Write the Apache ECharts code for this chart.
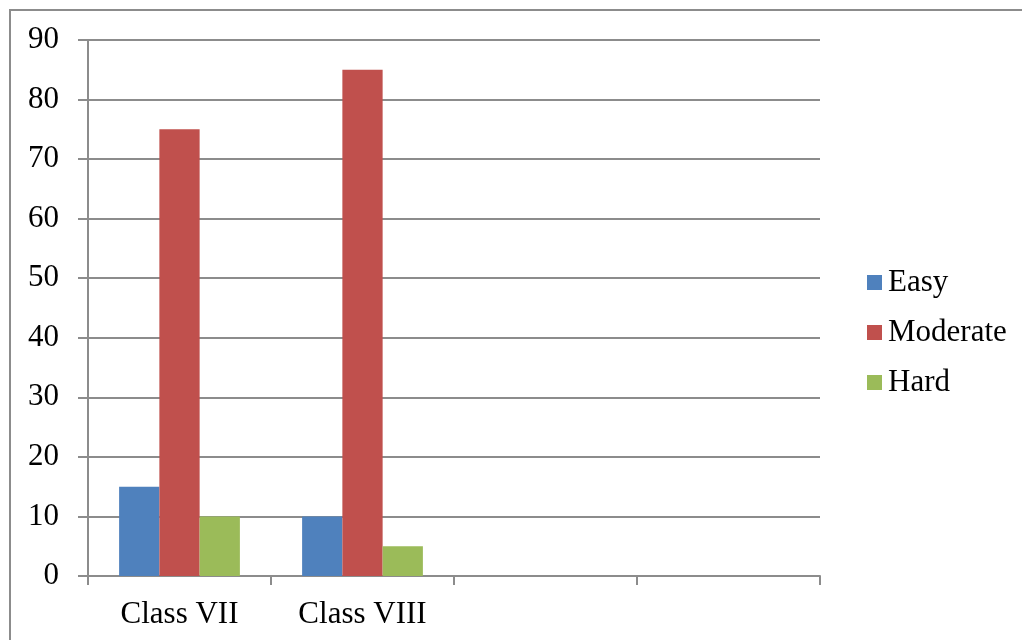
<!DOCTYPE html>
<html>
<head>
<meta charset="utf-8">
<script src="https://cdn.jsdelivr.net/npm/echarts@6/dist/echarts.min.js"></script>
<style>
  html, body { margin: 0; padding: 0; background: #fff; }
  #chart { width: 1022px; height: 640px; }
</style>
</head>
<body>
<div id="chart"></div>
<script>
// categories (last two slots are empty in the source chart)
var categories = ['Class VII', 'Class VIII', '', '']
var easy = [15, 10, null, null]
var moderate = [75, 85, null, null]
var hard = [10, 5, null, null]
var seriesNames = ['Easy', 'Moderate', 'Hard']

var chart = echarts.init(document.getElementById('chart'))
var font = '"Liberation Serif", "Times New Roman", serif'

var option = {
  animation: false,
  textStyle: { fontFamily: font },
  color: ['#4F81BD', '#C0504D', '#9BBB59'],
  graphic: [{
    type: 'rect',
    shape: { x: 10, y: 10, width: 1030, height: 650 },
    style: { fill: 'none', stroke: '#8c8c8c', lineWidth: 2 }
  }],
  grid: { left: 88, right: 202, top: 40, bottom: 64 },
  legend: {
    orient: 'vertical',
    left: 862,
    top: 262,
    itemWidth: 15,
    itemHeight: 15,
    itemGap: 19,
    icon: 'rect',
    data: seriesNames,
    textStyle: { fontFamily: font, fontSize: 31, color: '#000', padding: [0, 0, 0, 1] }
  },
  xAxis: {
    type: 'category',
    data: categories,
    axisLine: { lineStyle: { color: '#8c8c8c', width: 2 } },
    axisTick: { show: true, length: 9, lineStyle: { color: '#8c8c8c', width: 2 } },
    axisLabel: { color: '#000', fontSize: 31, fontFamily: font, margin: 23 }
  },
  yAxis: {
    type: 'value',
    min: 0,
    max: 90,
    interval: 10,
    axisLine: { show: true, lineStyle: { color: '#8c8c8c', width: 2 } },
    axisTick: { show: true, length: 10, lineStyle: { color: '#8c8c8c', width: 2 } },
    axisLabel: { color: '#000', fontSize: 31, fontFamily: font, margin: 29 },
    splitLine: { lineStyle: { color: '#8c8c8c', width: 2 } }
  },
  series: [
    { name: 'Easy', type: 'bar', data: easy, barGap: '0%', barCategoryGap: '34%' },
    { name: 'Moderate', type: 'bar', data: moderate, barGap: '0%', barCategoryGap: '34%' },
    { name: 'Hard', type: 'bar', data: hard, barGap: '0%', barCategoryGap: '34%' }
  ]
}

chart.setOption(option)
</script>
</body>
</html>
